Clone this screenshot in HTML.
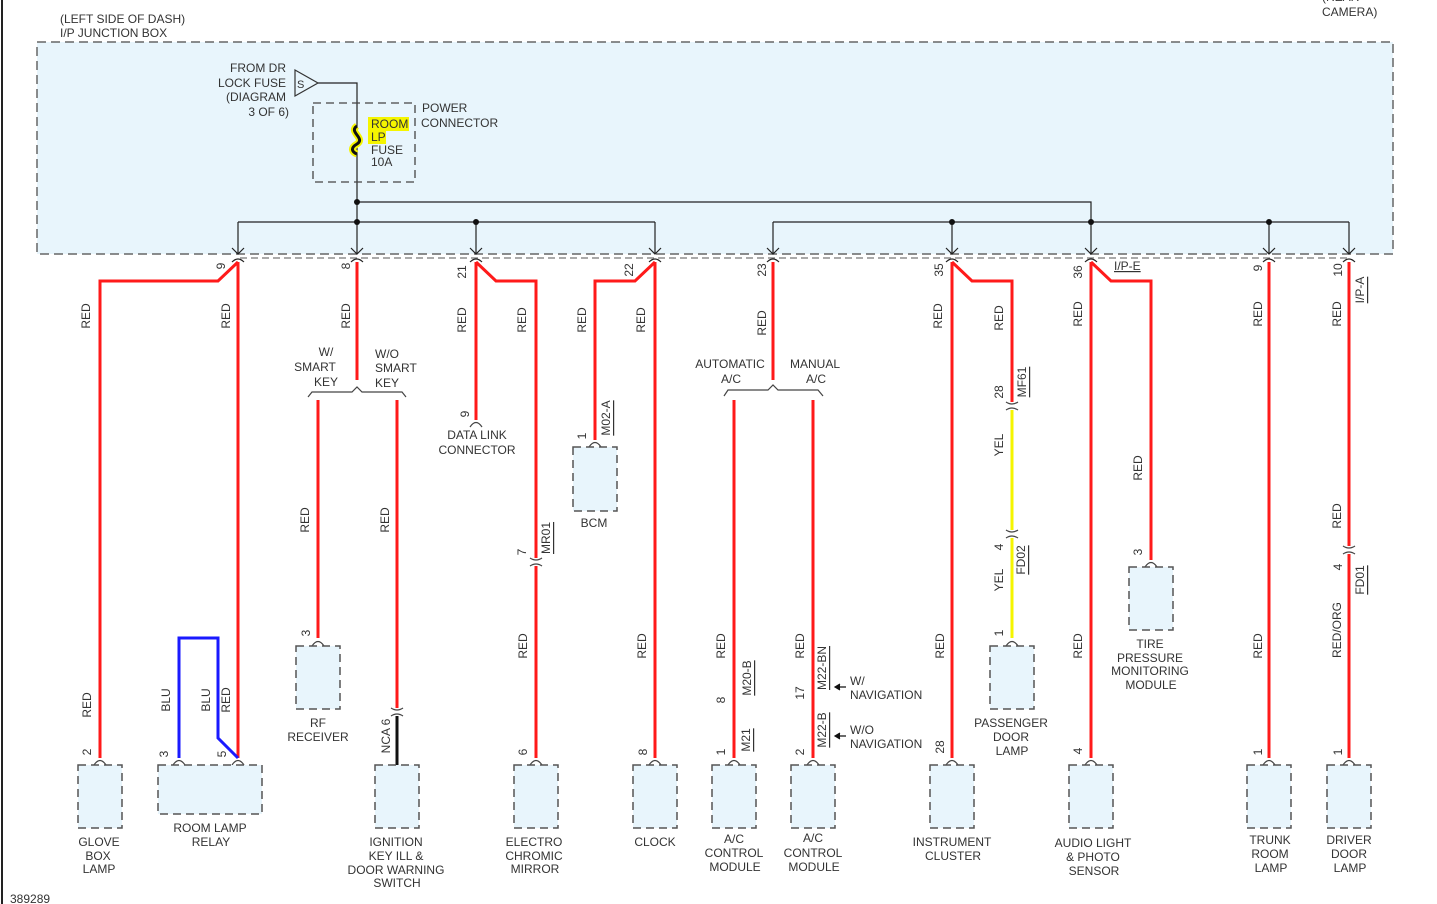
<!DOCTYPE html>
<html><head><meta charset="utf-8"><style>
html,body{margin:0;padding:0;background:#fff}
svg{display:block}
text{font-family:"Liberation Sans",sans-serif;font-size:12px;fill:#333}
.r{stroke:#ff1a1a;stroke-width:3;fill:none}
.k{stroke:#222;stroke-width:1.2;fill:none}
.bx{fill:#e8f5fc;stroke:#555;stroke-width:1.5;stroke-dasharray:8,5}
.cap{fill:none;stroke:#444;stroke-width:1.2}
</style></head><body>
<svg width="1437" height="904" viewBox="0 0 1437 904" xmlns="http://www.w3.org/2000/svg">
<line x1="2" y1="0" x2="2" y2="904" stroke="#222" stroke-width="2"/>
<text x="60" y="23">(LEFT SIDE OF DASH)</text>
<text x="60" y="37">I/P JUNCTION BOX</text>
<text x="1322" y="1">(REAR</text>
<text x="1322" y="16">CAMERA)</text>
<rect x="37" y="42" width="1356" height="212" fill="#e8f5fc" stroke="#666" stroke-width="1.5" stroke-dasharray="9,5"/>
<line x1="240" y1="258" x2="1350" y2="258" stroke="#777" stroke-width="1.2" stroke-dasharray="7,4"/>
<!-- from DR -->
<text x="286" y="72" text-anchor="end">FROM DR</text>
<text x="286" y="87" text-anchor="end">LOCK FUSE</text>
<text x="286" y="101" text-anchor="end">(DIAGRAM</text>
<text x="289" y="116" text-anchor="end">3 OF 6)</text>
<polygon points="295,70 295,96 318,83" fill="none" stroke="#333" stroke-width="1.2"/>
<text x="297" y="88" style="font-size:11px">S</text>
<polyline class="k" points="318,83 357,83 357,254"/>
<rect x="313" y="103" width="102" height="79" fill="none" stroke="#444" stroke-width="1.3" stroke-dasharray="8,5"/>
<rect x="368" y="117" width="41" height="14" fill="#f5f500"/>
<rect x="368" y="131" width="18" height="13" fill="#f5f500"/>
<path d="M357,126 C348,132 366,138 357,144 C350,148 352,152 357,154" stroke="#f5f500" stroke-width="7" fill="none"/>
<path d="M357,126 C348,132 366,138 357,144 C350,148 352,152 357,154" stroke="#111" stroke-width="3" fill="none"/>
<text x="371" y="128">ROOM</text><text x="371" y="141">LP</text>
<text x="371" y="154">FUSE</text><text x="371" y="166">10A</text>
<text x="422" y="112">POWER</text><text x="421" y="127">CONNECTOR</text>
<!-- bus -->
<polyline class="k" points="357,202 1091,202 1091,254"/>
<line class="k" x1="238" y1="222" x2="655" y2="222"/>
<line class="k" x1="773" y1="222" x2="1349" y2="222"/>
<g class="k">
<line x1="238" y1="222" x2="238" y2="254"/><line x1="476" y1="222" x2="476" y2="254"/>
<line x1="655" y1="222" x2="655" y2="254"/><line x1="773" y1="222" x2="773" y2="254"/>
<line x1="952" y1="222" x2="952" y2="254"/><line x1="1269" y1="222" x2="1269" y2="254"/>
<line x1="1349" y1="222" x2="1349" y2="254"/>
</g>
<g fill="#111">
<circle cx="357" cy="202" r="3"/><circle cx="357" cy="222" r="3"/><circle cx="476" cy="222" r="3"/>
<circle cx="952" cy="222" r="3"/><circle cx="1091" cy="222" r="3"/><circle cx="1269" cy="222" r="3"/>
</g>
<g class="k">
<path d="M232,248 L238,254 L244,248 M232,262 Q238,256 244,262"/>
<path d="M351,248 L357,254 L363,248 M351,262 Q357,256 363,262"/>
<path d="M470,248 L476,254 L482,248 M470,262 Q476,256 482,262"/>
<path d="M649,248 L655,254 L661,248 M649,262 Q655,256 661,262"/>
<path d="M767,248 L773,254 L779,248 M767,262 Q773,256 779,262"/>
<path d="M946,248 L952,254 L958,248 M946,262 Q952,256 958,262"/>
<path d="M1085,248 L1091,254 L1097,248 M1085,262 Q1091,256 1097,262"/>
<path d="M1263,248 L1269,254 L1275,248 M1263,262 Q1269,256 1275,262"/>
<path d="M1343,248 L1349,254 L1355,248 M1343,262 Q1349,256 1355,262"/>
</g>
<!-- wires -->
<polyline class="r" points="238,262 218,281 100,281 100,758"/>
<line class="r" x1="238" y1="262" x2="238" y2="758"/>
<polyline points="179,758 179,638 218,638 218,738 238,758" fill="none" stroke="#1a1aff" stroke-width="3"/>
<line class="r" x1="357" y1="262" x2="357" y2="380"/>
<path class="cap" d="M308,397 L312,392 L352,392 L357,387 L362,392 L402,392 L406,397"/>
<line class="r" x1="318" y1="400" x2="318" y2="638"/>
<line class="r" x1="397" y1="400" x2="397" y2="708"/>
<line x1="397" y1="716" x2="397" y2="765" stroke="#111" stroke-width="3"/>
<line class="r" x1="476" y1="262" x2="476" y2="420"/>
<polyline class="r" points="476,262 496,281 536,281 536,558"/>
<line class="r" x1="536" y1="566" x2="536" y2="758"/>
<line class="r" x1="655" y1="262" x2="655" y2="758"/>
<polyline class="r" points="655,262 635,281 595,281 595,440"/>
<line class="r" x1="773" y1="262" x2="773" y2="380"/>
<path class="cap" d="M724,396 L728,390 L768,390 L773,385 L778,390 L818,390 L823,396"/>
<line class="r" x1="734" y1="400" x2="734" y2="758"/>
<line class="r" x1="813" y1="400" x2="813" y2="758"/>
<line class="r" x1="952" y1="262" x2="952" y2="758"/>
<polyline class="r" points="952,262 972,281 1012,281 1012,402"/>
<line x1="1012" y1="410" x2="1012" y2="530" stroke="#f5f500" stroke-width="3"/>
<line x1="1012" y1="538" x2="1012" y2="638" stroke="#f5f500" stroke-width="3"/>
<line class="r" x1="1091" y1="262" x2="1091" y2="758"/>
<polyline class="r" points="1091,262 1111,281 1151,281 1151,560"/>
<line class="r" x1="1269" y1="262" x2="1269" y2="758"/>
<line class="r" x1="1349" y1="262" x2="1349" y2="546"/>
<line class="r" x1="1349" y1="554" x2="1349" y2="758"/>
<!-- inline connectors )( -->
<g class="cap">
<path d="M391,708 Q397,712 403,708 M391,716 Q397,712 403,716"/>
<path d="M530,558 Q536,562 542,558 M530,566 Q536,562 542,566"/>
<path d="M1006,402 Q1012,406 1018,402 M1006,410 Q1012,406 1018,410"/>
<path d="M1006,530 Q1012,534 1018,530 M1006,538 Q1012,534 1018,538"/>
<path d="M1343,546 Q1349,550 1355,546 M1343,554 Q1349,550 1355,554"/>
</g>
<!-- pin caps -->
<g class="cap">
<path d="M94,765 Q100,756 106,765"/><path d="M173,765 Q179,756 185,765"/><path d="M232,765 Q238,756 244,765"/>
<path d="M312,646 Q318,637 324,646"/><path d="M470,427 Q476,418 482,427"/><path d="M589,447 Q595,438 601,447"/>
<path d="M530,765 Q536,756 542,765"/><path d="M649,765 Q655,756 661,765"/><path d="M728,765 Q734,756 740,765"/>
<path d="M807,765 Q813,756 819,765"/><path d="M946,765 Q952,756 958,765"/><path d="M1006,646 Q1012,637 1018,646"/>
<path d="M1145,567 Q1151,558 1157,567"/><path d="M1085,765 Q1091,756 1097,765"/>
<path d="M1263,765 Q1269,756 1275,765"/><path d="M1343,765 Q1349,756 1355,765"/>
</g>
<!-- boxes -->
<rect class="bx" x="78" y="765" width="44" height="63"/>
<rect class="bx" x="158" y="765" width="104" height="49"/>
<rect class="bx" x="296" y="646" width="44" height="63"/>
<rect class="bx" x="375" y="765" width="44" height="63"/>
<rect class="bx" x="573" y="447" width="44" height="64"/>
<rect class="bx" x="514" y="765" width="44" height="63"/>
<rect class="bx" x="633" y="765" width="44" height="63"/>
<rect class="bx" x="712" y="765" width="44" height="63"/>
<rect class="bx" x="791" y="765" width="44" height="63"/>
<rect class="bx" x="930" y="765" width="44" height="63"/>
<rect class="bx" x="990" y="646" width="44" height="63"/>
<rect class="bx" x="1129" y="567" width="44" height="63"/>
<rect class="bx" x="1069" y="765" width="44" height="63"/>
<rect class="bx" x="1247" y="765" width="44" height="63"/>
<rect class="bx" x="1327" y="765" width="44" height="63"/>
<!-- component labels -->
<g text-anchor="middle">
<text x="99" y="846">GLOVE</text><text x="98" y="860">BOX</text><text x="99" y="873">LAMP</text>
<text x="210" y="832">ROOM LAMP</text><text x="211" y="846">RELAY</text>
<text x="318" y="727">RF</text><text x="318" y="741">RECEIVER</text>
<text x="396" y="846">IGNITION</text><text x="396" y="860">KEY ILL &amp;</text><text x="396" y="874">DOOR WARNING</text><text x="397" y="887">SWITCH</text>
<text x="477" y="439">DATA LINK</text><text x="477" y="454">CONNECTOR</text>
<text x="594" y="527">BCM</text>
<text x="534" y="846">ELECTRO</text><text x="534" y="860">CHROMIC</text><text x="535" y="873">MIRROR</text>
<text x="655" y="846">CLOCK</text>
<text x="734" y="843">A/C</text><text x="734" y="857">CONTROL</text><text x="735" y="871">MODULE</text>
<text x="813" y="842">A/C</text><text x="813" y="857">CONTROL</text><text x="814" y="871">MODULE</text>
<text x="952" y="846">INSTRUMENT</text><text x="953" y="860">CLUSTER</text>
<text x="1011" y="727">PASSENGER</text><text x="1011" y="741">DOOR</text><text x="1012" y="755">LAMP</text>
<text x="1150" y="648">TIRE</text><text x="1150" y="662">PRESSURE</text><text x="1150" y="675">MONITORING</text><text x="1151" y="689">MODULE</text>
<text x="1093" y="847">AUDIO LIGHT</text><text x="1093" y="861">&amp; PHOTO</text><text x="1094" y="875">SENSOR</text>
<text x="1270" y="844">TRUNK</text><text x="1270" y="858">ROOM</text><text x="1271" y="872">LAMP</text>
<text x="1349" y="844">DRIVER</text><text x="1349" y="858">DOOR</text><text x="1350" y="872">LAMP</text>
<text x="326" y="356">W/</text><text x="315" y="371">SMART</text><text x="326" y="386">KEY</text>
<text x="730" y="368">AUTOMATIC</text><text x="731" y="383">A/C</text>
<text x="815" y="368">MANUAL</text><text x="816" y="383">A/C</text>
</g>
<text x="375" y="358">W/O</text><text x="375" y="372">SMART</text><text x="375" y="387">KEY</text>
<text x="850" y="685">W/</text><text x="850" y="699">NAVIGATION</text>
<text x="850" y="734">W/O</text><text x="850" y="748">NAVIGATION</text>
<path d="M846,687 L836,687 M840,684 L835,687 L840,690" stroke="#111" stroke-width="1.2" fill="#111"/>
<path d="M846,736 L836,736 M840,733 L835,736 L840,739" stroke="#111" stroke-width="1.2" fill="#111"/>
<text x="1114" y="270" text-decoration="underline">I/P-E</text>
<text x="10" y="903">389289</text>
<!-- rotated labels -->
<g text-anchor="middle" dominant-baseline="central">
<text transform="translate(221,266) rotate(-90)">9</text>
<text transform="translate(86,316) rotate(-90)">RED</text>
<text transform="translate(226,316) rotate(-90)">RED</text>
<text transform="translate(346,266) rotate(-90)">8</text>
<text transform="translate(346,316) rotate(-90)">RED</text>
<text transform="translate(462,272) rotate(-90)">21</text>
<text transform="translate(462,320) rotate(-90)">RED</text>
<text transform="translate(522,320) rotate(-90)">RED</text>
<text transform="translate(629,270) rotate(-90)">22</text>
<text transform="translate(582,320) rotate(-90)">RED</text>
<text transform="translate(641,320) rotate(-90)">RED</text>
<text transform="translate(762,270) rotate(-90)">23</text>
<text transform="translate(762,323) rotate(-90)">RED</text>
<text transform="translate(939,270) rotate(-90)">35</text>
<text transform="translate(938,316) rotate(-90)">RED</text>
<text transform="translate(999,318) rotate(-90)">RED</text>
<text transform="translate(1078,272) rotate(-90)">36</text>
<text transform="translate(1078,314) rotate(-90)">RED</text>
<text transform="translate(1258,268) rotate(-90)">9</text>
<text transform="translate(1258,314) rotate(-90)">RED</text>
<text transform="translate(1338,270) rotate(-90)">10</text>
<text transform="translate(1337,314) rotate(-90)">RED</text>
<text transform="translate(1360,290) rotate(-90)" text-decoration="underline">I/P-A</text>
<text transform="translate(999,392) rotate(-90)">28</text>
<text transform="translate(1022,382) rotate(-90)" text-decoration="underline">MF61</text>
<text transform="translate(999,445) rotate(-90)">YEL</text>
<text transform="translate(999,547) rotate(-90)">4</text>
<text transform="translate(1021,560) rotate(-90)" text-decoration="underline">FD02</text>
<text transform="translate(999,580) rotate(-90)">YEL</text>
<text transform="translate(999,633) rotate(-90)">1</text>
<text transform="translate(1138,468) rotate(-90)">RED</text>
<text transform="translate(1138,552) rotate(-90)">3</text>
<text transform="translate(1337,516) rotate(-90)">RED</text>
<text transform="translate(1338,567) rotate(-90)">4</text>
<text transform="translate(1360,580) rotate(-90)" text-decoration="underline">FD01</text>
<text transform="translate(1337,630) rotate(-90)">RED/ORG</text>
<text transform="translate(1338,752) rotate(-90)">1</text>
<text transform="translate(1258,646) rotate(-90)">RED</text>
<text transform="translate(1258,752) rotate(-90)">1</text>
<text transform="translate(1078,646) rotate(-90)">RED</text>
<text transform="translate(1078,751) rotate(-90)">4</text>
<text transform="translate(940,646) rotate(-90)">RED</text>
<text transform="translate(940,747) rotate(-90)">28</text>
<text transform="translate(800,646) rotate(-90)">RED</text>
<text transform="translate(800,693) rotate(-90)">17</text>
<text transform="translate(800,752) rotate(-90)">2</text>
<text transform="translate(822,668) rotate(-90)" text-decoration="underline">M22-BN</text>
<text transform="translate(822,730) rotate(-90)" text-decoration="underline">M22-B</text>
<text transform="translate(721,646) rotate(-90)">RED</text>
<text transform="translate(721,700) rotate(-90)">8</text>
<text transform="translate(721,752) rotate(-90)">1</text>
<text transform="translate(747,678) rotate(-90)" text-decoration="underline">M20-B</text>
<text transform="translate(746,740) rotate(-90)" text-decoration="underline">M21</text>
<text transform="translate(642,646) rotate(-90)">RED</text>
<text transform="translate(643,752) rotate(-90)">8</text>
<text transform="translate(523,646) rotate(-90)">RED</text>
<text transform="translate(523,752) rotate(-90)">6</text>
<text transform="translate(522,552) rotate(-90)">7</text>
<text transform="translate(546,538) rotate(-90)" text-decoration="underline">MR01</text>
<text transform="translate(385,520) rotate(-90)">RED</text>
<text transform="translate(386,736) rotate(-90)">NCA 6</text>
<text transform="translate(305,520) rotate(-90)">RED</text>
<text transform="translate(306,633) rotate(-90)">3</text>
<text transform="translate(465,414) rotate(-90)">9</text>
<text transform="translate(582,436) rotate(-90)">1</text>
<text transform="translate(606,418) rotate(-90)" text-decoration="underline">M02-A</text>
<text transform="translate(87,705) rotate(-90)">RED</text>
<text transform="translate(87,752) rotate(-90)">2</text>
<text transform="translate(166,700) rotate(-90)">BLU</text>
<text transform="translate(206,700) rotate(-90)">BLU</text>
<text transform="translate(226,700) rotate(-90)">RED</text>
<text transform="translate(164,754) rotate(-90)">3</text>
<text transform="translate(222,754) rotate(-90)">5</text>
</g>
</svg>
</body></html>
